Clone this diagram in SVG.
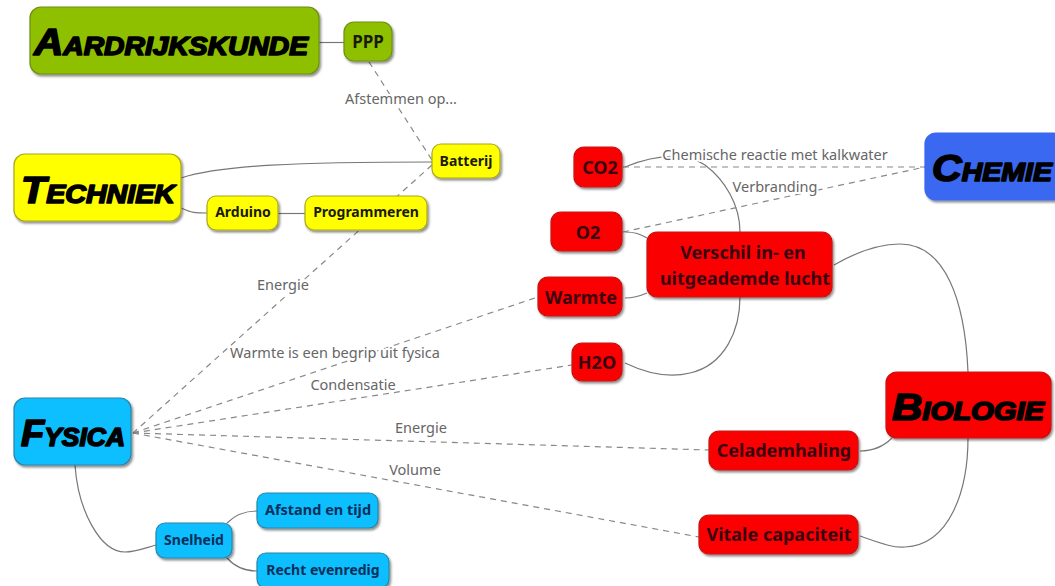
<svg xmlns="http://www.w3.org/2000/svg" width="1055" height="586" viewBox="0 0 1055 586">
<style>
.n{stroke-width:1.2;filter:url(#sh)}
.g{fill:#8fc000;stroke:#6c8f10}
.y{fill:#ffff00;stroke:#a8a820}
.b{fill:#0abfff;stroke:#2a86a8}
.r{fill:#fb0000;stroke:#c81010}
.c{fill:#3a68f0;stroke:#3a68f0}
.t{font-family:"Liberation Sans",sans-serif;font-weight:700;font-style:italic;font-variant:small-caps;text-anchor:middle;fill:#000;stroke:#000;stroke-width:1.6;stroke-linejoin:round}
.s{font-family:"Noto Sans","Open Sans",sans-serif;font-weight:700;text-anchor:middle;font-size:14px}
.m{font-size:18px}
.dk{fill:#1a1a08}
.dr{fill:#3a0010}
.db{fill:#08305a}
.l{font-family:"Noto Sans","Open Sans",sans-serif;font-size:14.5px;fill:#666;text-anchor:middle;stroke:#fff;stroke-width:4;paint-order:stroke;stroke-linejoin:round}
.sol{fill:none;stroke:#777;stroke-width:1.2}
.da{fill:none;stroke:#888;stroke-width:1.2;stroke-dasharray:6 5}
</style>
<defs>
<filter id="sh" x="-10%" y="-15%" width="125%" height="135%"><feDropShadow dx="1.5" dy="2" stdDeviation="1.2" flood-color="#000" flood-opacity="0.45"/></filter>
</defs>
<rect width="1055" height="586" fill="#fff"/>
<g id="connectors">
<path class="sol" d="M319,42.500H344"/>
<path class="sol" d="M181,178C220,165 300,162 432,162"/>
<path class="sol" d="M181,208C192,213 195,213 207,213"/>
<path class="sol" d="M278,213.500H305"/>
<path class="sol" d="M625,167C650,157 680,150 705,165C725,180 740,205 740,232"/>
<path class="sol" d="M625,232C635,232 640,234 647,238"/>
<path class="sol" d="M625,298C633,298 640,296 647,293"/>
<path class="sol" d="M625,363C650,375 670,378 690,373C725,365 740,330 740,297"/>
<path class="sol" d="M834,265C860,250 880,244 900,244C945,244 965,300 968,372"/>
<path class="sol" d="M860,451C875,451 885,445 892,438"/>
<path class="sol" d="M860,536C885,545 895,548 905,547C950,545 968,490 968,438"/>
<path class="sol" d="M75,465C78,510 100,552 125,552C135,552 145,548 156,545"/>
<path class="sol" d="M227,523C235,515 245,511 257,511"/>
<path class="sol" d="M227,558C235,567 245,571 257,571"/>
<path class="da" d="M369,62L432,160"/>
<path class="da" d="M432,165L133,433"/>
<path class="da" d="M133,433L538,297"/>
<path class="da" d="M133,433L572,365"/>
<path class="da" d="M133,433L709,450"/>
<path class="da" d="M133,433L699,537"/>
<path class="da" d="M623,167H925"/>
<path class="da" d="M623,232L925,167"/>
<text class="l" x="401" y="104">Afstemmen op...</text>
<text class="l" x="283" y="290">Energie</text>
<text class="l" x="335" y="358">Warmte is een begrip uit fysica</text>
<text class="l" x="353" y="390">Condensatie</text>
<text class="l" x="421" y="433">Energie</text>
<text class="l" x="415" y="475">Volume</text>
<text class="l" x="775" y="160">Chemische reactie met kalkwater</text>
<text class="l" x="775" y="192">Verbranding</text>
</g>
<g id="aardrijkskunde"><rect class="n g" x="30" y="7" width="289" height="67" rx="11"/><text class="t" x="171" y="55" font-size="36" textLength="274" lengthAdjust="spacingAndGlyphs">Aardrijkskunde</text></g>
<g id="ppp"><rect class="n g" x="344" y="22" width="48" height="39" rx="10"/><text class="s dk" x="368" y="48" style="font-size:17px">PPP</text></g>
<g id="techniek"><rect class="n y" x="14" y="154" width="167" height="67" rx="11"/><text class="t" x="98" y="203" font-size="36" textLength="154" lengthAdjust="spacingAndGlyphs">Techniek</text></g>
<g id="batterij"><rect class="n y" x="432" y="144" width="68" height="34" rx="9"/><text class="s dk" x="466" y="166">Batterij</text></g>
<g id="arduino"><rect class="n y" x="207" y="196" width="71" height="34" rx="9"/><text class="s dk" x="243" y="217">Arduino</text></g>
<g id="programmeren"><rect class="n y" x="305" y="196" width="122" height="34" rx="9"/><text class="s dk" x="366" y="217">Programmeren</text></g>
<g id="fysica"><rect class="n b" x="14" y="398" width="117" height="67" rx="11"/><text class="t" x="73" y="446" font-size="36" textLength="104" lengthAdjust="spacingAndGlyphs">Fysica</text></g>
<g id="snelheid"><rect class="n b" x="156" y="523" width="76" height="35" rx="9"/><text class="s db" x="194" y="545">Snelheid</text></g>
<g id="afstand"><rect class="n b" x="257" y="493" width="121" height="35" rx="9"/><text class="s db" x="318" y="515" style="font-size:14.500px">Afstand en tijd</text></g>
<g id="recht"><rect class="n b" x="257" y="553" width="132" height="35" rx="9"/><text class="s db" x="323" y="575">Recht evenredig</text></g>
<g id="co2"><rect class="n r" x="574" y="147" width="48" height="40" rx="10"/><text class="s m dr" x="600" y="174">CO2</text></g>
<g id="o2"><rect class="n r" x="551" y="212" width="71" height="39" rx="10"/><text class="s m dr" x="588" y="239">O2</text></g>
<g id="warmte"><rect class="n r" x="538" y="277" width="84" height="39" rx="10"/><text class="s m dr" x="581" y="304">Warmte</text></g>
<g id="h2o"><rect class="n r" x="572" y="343" width="50" height="38" rx="10"/><text class="s m dr" x="597" y="369">H2O</text></g>
<g id="verschil"><rect class="n r" x="647" y="232" width="185" height="65" rx="10"/><text class="s m dr" x="743" y="259">Verschil in- en</text><text class="s m dr" x="745" y="285">uitgeademde lucht</text></g>
<g id="chemie"><rect class="n c" x="925" y="133" width="140" height="67" rx="11"/><text class="t" x="992" y="181" font-size="36" textLength="120" lengthAdjust="spacingAndGlyphs">Chemie</text></g>
<g id="biologie"><rect class="n r" x="886" y="372" width="165" height="66" rx="11"/><text class="t" x="968" y="420" font-size="36" textLength="152" lengthAdjust="spacingAndGlyphs">Biologie</text></g>
<g id="celademhaling"><rect class="n r" x="709" y="431" width="149" height="39" rx="10"/><text class="s m dr" x="784" y="457">Celademhaling</text></g>
<g id="vitale"><rect class="n r" x="699" y="515" width="159" height="39" rx="10"/><text class="s m dr" x="779" y="541">Vitale capaciteit</text></g>
</svg>
